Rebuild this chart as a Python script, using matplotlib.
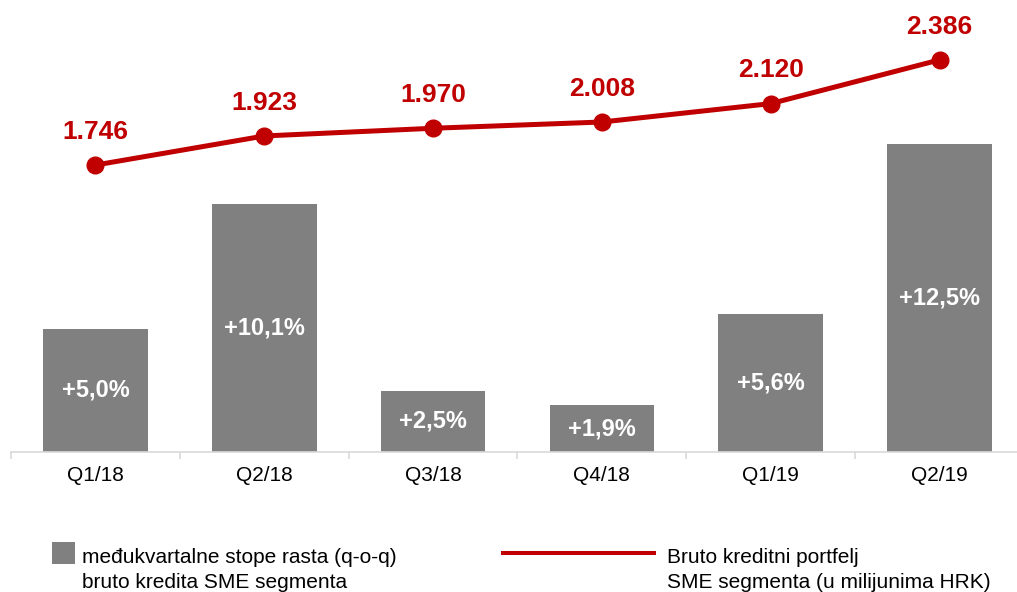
import matplotlib
matplotlib.use("Agg")
import matplotlib.pyplot as plt
from matplotlib.lines import Line2D
from matplotlib.patches import Rectangle

plt.rcParams['font.family'] = ['Liberation Sans', 'DejaVu Sans']

categories = ["Q1/18", "Q2/18", "Q3/18", "Q4/18", "Q1/19", "Q2/19"]
growth = [5.0, 10.1, 2.5, 1.9, 5.6, 12.5]
growth_labels = ["+5,0%", "+10,1%", "+2,5%", "+1,9%", "+5,6%", "+12,5%"]
portfolio = [1746, 1923, 1970, 2008, 2120, 2386]
portfolio_labels = ["1.746", "1.923", "1.970", "2.008", "2.120", "2.386"]
legend_bar = ["međukvartalne stope rasta (q-o-q)", "bruto kredita SME segmenta"]
legend_line = ["Bruto kreditni portfelj", "SME segmenta (u milijunima HRK)"]

W, H = 1017, 592
fig = plt.figure(figsize=(W / 100, H / 100), dpi=100)
left_px, right_px = 11, 1024
bottom_px, top_px = 452, 10
ax = fig.add_axes([left_px / W, (H - bottom_px) / H,
                   (right_px - left_px) / W, (bottom_px - top_px) / H])
ax2 = ax.twinx()

x = list(range(len(categories)))
bar_color = "#808080"
red = "#C00000"

ax.bar(x, growth, width=0.62, color=bar_color, zorder=2)
for xi, v, lab in zip(x, growth, growth_labels):
    ax.text(xi, v / 2, lab, ha="center", va="center", color="white",
            fontsize=17, fontweight="bold", zorder=3)

ax.set_xlim(-0.5, len(categories) - 0.5)
ax.set_ylim(0, (bottom_px - top_px) / 24.6)

ax2.plot(x, portfolio, color=red, lw=3.6, marker="o", markersize=12, zorder=4)
ax2.set_ylim(0, (bottom_px - top_px) * 6.085)
for xi, v, lab in zip(x, portfolio, portfolio_labels):
    ax2.annotate(lab, (xi, v), xytext=(0, 24), textcoords="offset points",
                 ha="center", va="center", color=red, fontsize=19,
                 fontweight="bold")

for a in (ax, ax2):
    for s in ("top", "right", "left"):
        a.spines[s].set_visible(False)
    a.set_yticks([])
ax2.spines["bottom"].set_visible(False)
ax.spines["bottom"].set_color("#D9D9D9")
ax.spines["bottom"].set_linewidth(1.2)

ax.set_xticks(x)
ax.set_xticklabels(categories, fontsize=15)
ax.tick_params(axis="x", which="major", length=0, pad=10)
ax.set_xticks([i - 0.5 for i in range(len(categories) + 1)], minor=True)
ax.tick_params(axis="x", which="minor", length=5, color="#D9D9D9", width=1.2)

# Legend drawn manually (figure pixel coordinates converted to fractions)
def fx(px):
    return px / W

def fy(py):
    return 1 - py / H

fig.add_artist(Rectangle((fx(52), fy(564)), fx(75) - fx(52), fy(542) - fy(564),
                         transform=fig.transFigure, facecolor=bar_color,
                         edgecolor="none"))
for i, line in enumerate(legend_bar):
    fig.text(fx(82), fy(563 + 25 * i), line, ha="left", va="baseline",
             fontsize=15, color="black")

fig.add_artist(Line2D([fx(503), fx(654)], [fy(553), fy(553)],
                      transform=fig.transFigure, color=red, lw=2.9))
for i, line in enumerate(legend_line):
    fig.text(fx(667), fy(563 + 25 * i), line, ha="left", va="baseline",
             fontsize=15, color="black")

fig.savefig("out.png", dpi=100)
